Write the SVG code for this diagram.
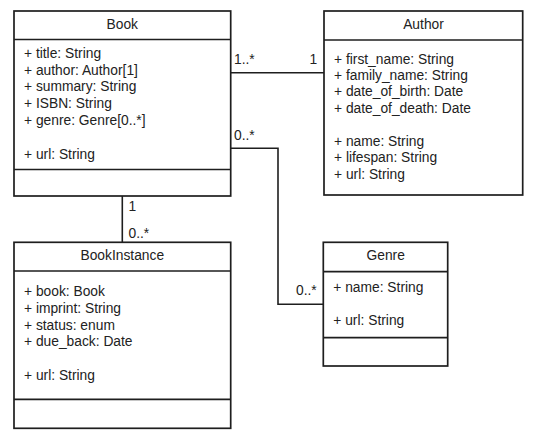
<svg xmlns="http://www.w3.org/2000/svg" width="536" height="438" viewBox="0 0 536 438">
<style>
.box{fill:#fff;stroke:#1e1e1e;stroke-width:1.7}
.div{stroke:#1e1e1e;stroke-width:1.7;fill:none}
.con{stroke:#1e1e1e;stroke-width:1.6;fill:none}
text{font-family:"Liberation Sans",Arial,sans-serif;font-size:13.8px;fill:#222}
.t{text-anchor:middle}
</style>
<rect width="536" height="438" fill="#fff"/>
<g id="connectors">
<line class="con" x1="230.7" y1="72.7" x2="324" y2="72.7"/>
<polyline class="con" points="230.7,148.3 278,148.3 278,304.3 323.3,304.3"/>
<line class="con" x1="122.3" y1="196" x2="122.3" y2="242.3"/>
<text x="234" y="64">1..*</text>
<text x="309.5" y="64">1</text>
<text x="234" y="139.5">0..*</text>
<text x="296" y="295">0..*</text>
<text x="128.5" y="210.5">1</text>
<text x="128.5" y="237.5">0..*</text>
</g>
<g id="book">
<rect class="box" x="14" y="11" width="216.7" height="185"/>
<line class="div" x1="14" y1="39.5" x2="230.7" y2="39.5"/>
<line class="div" x1="14" y1="169.5" x2="230.7" y2="169.5"/>
<text class="t" x="122.3" y="28.5">Book</text>
<text x="24" y="57.8">+ title: String</text>
<text x="24" y="74.5">+ author: Author[1]</text>
<text x="24" y="91.2">+ summary: String</text>
<text x="24" y="107.9">+ ISBN: String</text>
<text x="24" y="124.6">+ genre: Genre[0..*]</text>
<text x="24" y="158.5">+ url: String</text>
</g>
<g id="author">
<rect class="box" x="324" y="11" width="198.7" height="184"/>
<line class="div" x1="324" y1="40" x2="522.7" y2="40"/>
<text class="t" x="423.5" y="28.5">Author</text>
<text x="334" y="64">+ first_name: String</text>
<text x="334" y="80">+ family_name: String</text>
<text x="334" y="96.3">+ date_of_birth: Date</text>
<text x="334" y="112.6">+ date_of_death: Date</text>
<text x="334" y="146.3">+ name: String</text>
<text x="334" y="162.3">+ lifespan: String</text>
<text x="334" y="178.8">+ url: String</text>
</g>
<g id="bookinstance">
<rect class="box" x="14" y="242.3" width="216.7" height="186"/>
<line class="div" x1="14" y1="271" x2="230.7" y2="271"/>
<line class="div" x1="14" y1="399.3" x2="230.7" y2="399.3"/>
<text class="t" x="122.3" y="260.3">BookInstance</text>
<text x="24" y="296.2">+ book: Book</text>
<text x="24" y="312.8">+ imprint: String</text>
<text x="24" y="329.5">+ status: enum</text>
<text x="24" y="346.3">+ due_back: Date</text>
<text x="24" y="379.5">+ url: String</text>
</g>
<g id="genre">
<rect class="box" x="323.3" y="242.3" width="124.4" height="123.7"/>
<line class="div" x1="323.3" y1="271.7" x2="447.7" y2="271.7"/>
<line class="div" x1="323.3" y1="337.7" x2="447.7" y2="337.7"/>
<text class="t" x="385.7" y="260.3">Genre</text>
<text x="333.3" y="291.8">+ name: String</text>
<text x="333.3" y="324.5">+ url: String</text>
</g>
</svg>
